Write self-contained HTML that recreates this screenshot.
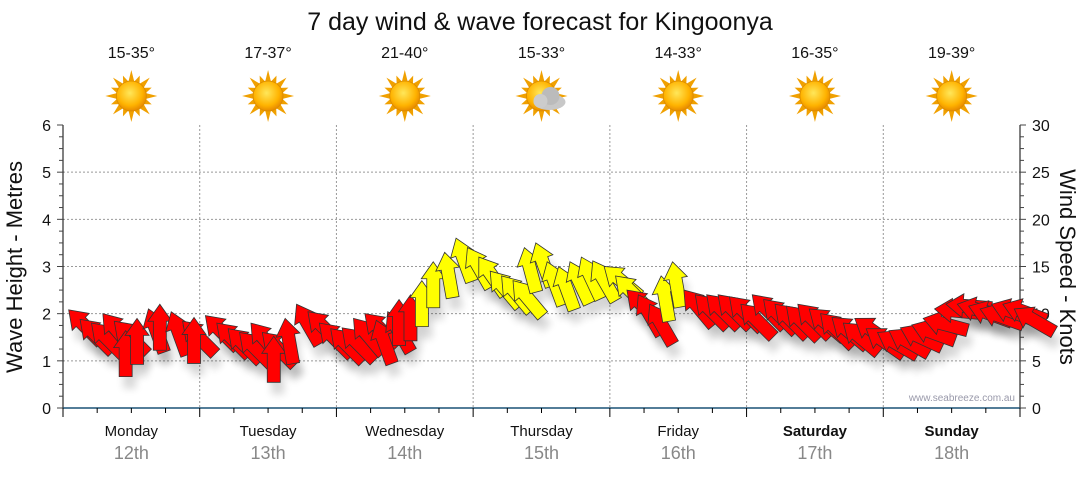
<!DOCTYPE html>
<html><head><meta charset="utf-8"><style>
body{margin:0;background:#fff;width:1080px;height:475px;overflow:hidden;font-family:"Liberation Sans",sans-serif}
</style></head><body>
<svg id="c" width="1080" height="475" xmlns="http://www.w3.org/2000/svg">
<defs>
<filter id="sh" x="-50%" y="-50%" width="200%" height="200%"><feGaussianBlur stdDeviation="4"/></filter>
<radialGradient id="sun" cx="0.45" cy="0.4" r="0.6"><stop offset="0" stop-color="#ffe75a"/><stop offset="0.7" stop-color="#ffb300"/><stop offset="1" stop-color="#e88a00"/></radialGradient>
</defs>
<text x="540" y="30" text-anchor="middle" font-size="25" fill="#111">7 day wind &amp; wave forecast for Kingoonya</text>
<g id="plot"></g>
</svg>
<script>
const days=["Monday","Tuesday","Wednesday","Thursday","Friday","Saturday","Sunday"];
const dates=["12th","13th","14th","15th","16th","17th","18th"];
const temps=["15-35°","17-37°","21-40°","15-33°","14-33°","16-35°","19-39°"];
const cloudy=[false,false,false,true,false,false,false];
const leftTicks=[0,1,2,3,4,5,6];
const rightTicks=[0,5,10,15,20,25,30];
const speeds=[10.4,9.4,9.0,10.0,9.2,8.2,9.5,10.5,11.0,10.2,9.2,9.6,
9.8,9.0,8.4,8.0,9.0,8.0,7.6,9.5,11.0,10.2,9.0,8.4,
8.5,9.5,10.0,9.3,10.2,11.5,12.0,13.5,15.5,16.5,18.0,17.0,
16.0,14.5,14.0,13.5,17.0,17.5,15.5,15.0,15.5,16.0,15.6,15.0,
14.0,12.5,12.0,11.0,14.0,15.5,12.5,12.0,12.0,12.0,11.8,11.0,
12.0,11.5,11.0,10.8,11.0,10.5,10.0,9.6,9.0,9.5,8.4,8.0,
8.2,8.5,8.8,9.5,10.5,11.0,11.0,10.8,10.5,11.0,11.0,10.5];
const dirs=[-45,-45,-45,-40,-45,0,0,-20,0,-20,-45,0,
-45,-45,-45,-45,-40,-45,0,-10,-30,-45,-45,-45,
-45,-40,-45,-20,-30,0,0,0,0,-10,-20,-30,
-35,-40,-40,-40,-15,-20,-20,-20,-25,-25,-30,-50,
-45,-45,-30,-30,-10,-10,-40,-45,-45,-45,-45,-45,
-45,-45,-45,-45,-45,-50,-45,-50,-50,-55,-55,-60,
-60,-65,-70,-75,-85,-85,-75,-70,-70,-70,-70,-60];
const NS="http://www.w3.org/2000/svg";
const g=document.getElementById('plot');
const X0=63,X1=1020,Y0=408,Y1=125;
const dayW=(X1-X0)/7;
const yR=v=>Y0-(v/30)*(Y0-Y1);
const yL=v=>Y0-(v/6)*(Y0-Y1);
const xAt=i=>X0+(i+0.5)*(X1-X0)/speeds.length;
function el(t,a,p){const e=document.createElementNS(NS,t);for(const k in a)e.setAttribute(k,a[k]);(p||g).appendChild(e);return e;}
leftTicks.forEach(v=>{if(v>0&&v<6){const l=el('line',{x1:X0,x2:X1,y1:yL(v),y2:yL(v),stroke:'#999','stroke-dasharray':'2,2','stroke-width':1});}});
for(let d=1;d<7;d++){const l=el('line',{x1:X0+d*dayW,x2:X0+d*dayW,y1:Y1,y2:Y0,stroke:'#999','stroke-dasharray':'2,2'});}
el('line',{x1:X0,x2:X0,y1:Y1,y2:Y0+4,stroke:'#000'});
el('line',{x1:X1,x2:X1,y1:Y1,y2:Y0+4,stroke:'#000'});
el('line',{x1:X0,x2:X1,y1:Y0,y2:Y0,stroke:'#1a5276','stroke-width':1.5});
for(let k=0;k<=24;k++){const y=yL(k/4);el('line',{x1:X0-(k%4?4:6),x2:X0,y1:y,y2:y,stroke:'#444'});el('line',{x1:X1,x2:X1+(k%4?4:6),y1:y,y2:y,stroke:'#444'});}
for(let k=0;k<=28;k++){const x=X0+k*dayW/4;el('line',{x1:x,x2:x,y1:Y0,y2:Y0+(k%4?5:9),stroke:'#000'});}
leftTicks.forEach(v=>{const t=el('text',{x:X0-12,y:yL(v)+6,'text-anchor':'end','font-size':16,fill:'#111'});t.textContent=v;});
rightTicks.forEach(v=>{const t=el('text',{x:X1+12,y:yR(v)+6,'font-size':16,fill:'#111'});t.textContent=v;});
let t=el('text',{transform:'translate(22,267) rotate(-90)','text-anchor':'middle','font-size':22,fill:'#111'});t.textContent='Wave Height - Metres';

t=el('text',{transform:'translate(1060,267) rotate(90)','text-anchor':'middle','font-size':22,fill:'#111'});t.textContent='Wind Speed - Knots';

days.forEach((d,i)=>{const cx=X0+(i+0.5)*dayW;const b=(i>=5);
let a=el('text',{x:cx,y:436,'text-anchor':'middle','font-size':15,fill:'#111','font-weight':b?'bold':'normal'});a.textContent=d;
a=el('text',{x:cx,y:459,'text-anchor':'middle','font-size':18,fill:'#888'});a.textContent=dates[i];
a=el('text',{x:cx,y:58,'text-anchor':'middle','font-size':16,fill:'#111'});a.textContent=temps[i];
const ic=el('g',{transform:`translate(${cx},96)`});
for(let r=0;r<16;r++){const an=r*22.5;const L=r%2?22:26;el('polygon',{points:`-3,-14 3,-14 0,-${L}`,fill:'#f0a000',transform:`rotate(${an})`},ic);}
el('circle',{r:15,fill:'url(#sun)',stroke:'#d98a00','stroke-width':0.8},ic);
if(cloudy[i]){el('ellipse',{cx:8,cy:6,rx:16,ry:8,fill:'#c8c8c8'},ic);el('circle',{cx:9,cy:0,r:9,fill:'#bbb'},ic);el('circle',{cx:-1,cy:5,r:7,fill:'#ccc'},ic);}
});
const arrowPts="0,0 -12,17 -6.5,17 -6.5,46 6.5,46 6.5,17 12,17";
speeds.forEach((v,i)=>{const x=xAt(i),y=yR(v);
el('polygon',{points:arrowPts,fill:'#000',opacity:0.15,filter:'url(#sh)',transform:`translate(${x+4},${y+12}) rotate(${dirs[i]})`});
});
speeds.forEach((v,i)=>{const x=xAt(i),y=yR(v);
const a=el('polygon',{points:arrowPts,fill:v>=13?'#ffff00':'#ff0000',stroke:'#333','stroke-width':0.8,'stroke-linejoin':'miter',transform:`translate(${x},${y}) rotate(${dirs[i]})`});


});
t=el('text',{x:1015,y:401,'text-anchor':'end','font-size':10,fill:'#99a'});t.textContent='www.seabreeze.com.au';

</script>
</body></html>
